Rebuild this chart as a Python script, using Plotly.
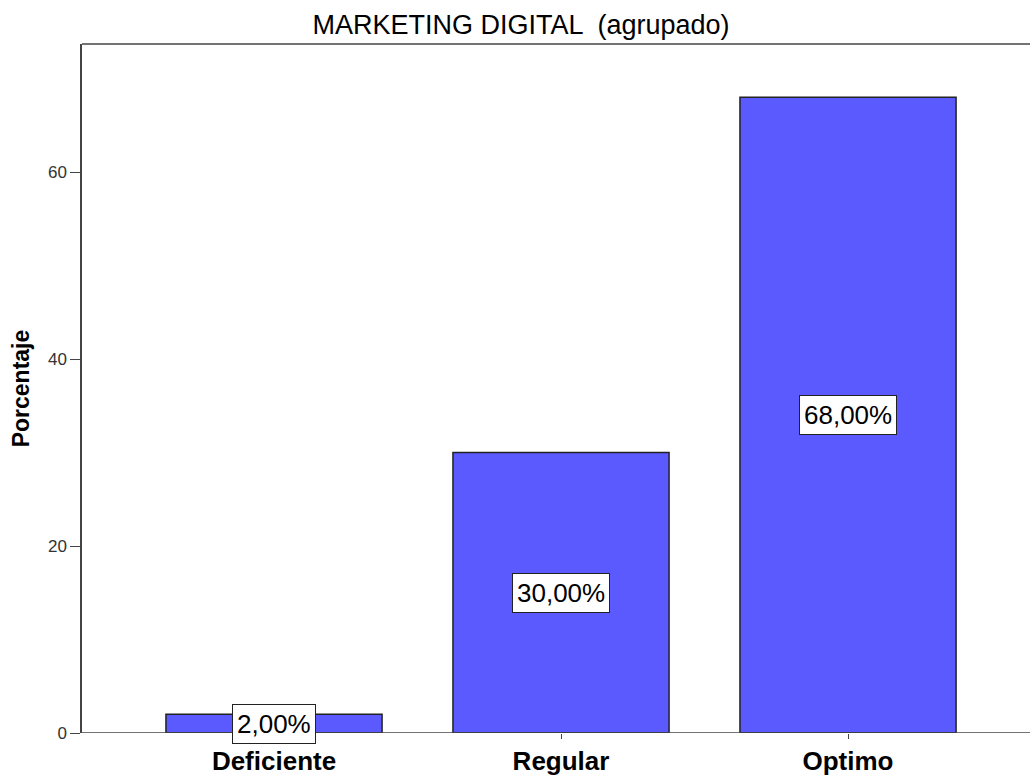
"""Bar chart — MARKETING DIGITAL (agrupado), SPSS style."""
import plotly.graph_objects as go

categories = ["Deficiente", "Regular", "Optimo"]
percentages = [2.0, 30.0, 68.0]
labels = ["2,00%", "30,00%", "68,00%"]
y_ticks = [0, 20, 40, 60]

_FONT = "Liberation Sans, Arial, sans-serif"
_BAR = "#5a5aff"
_AXIS = "#444444"

fig = go.Figure()
fig.add_trace(go.Bar(
    x=categories, y=percentages,
    width=0.753,
    marker=dict(color=_BAR, line=dict(color="#222222", width=1.5)),
    showlegend=False, hoverinfo="skip",
))

for cat, val, lab in zip(categories, percentages, labels):
    fig.add_annotation(
        x=cat, y=val / 2, text=lab, showarrow=False,
        font=dict(family=_FONT, size=26, color="#000000"),
        bgcolor="#ffffff", bordercolor="#222222", borderwidth=1, borderpad=4,
    )

# top frame line
fig.add_shape(type="line", xref="paper", yref="paper",
              x0=0, x1=1, y0=1, y1=1,
              line=dict(color=_AXIS, width=1.5))
# bottom axis line across whole plot area
fig.add_shape(type="line", xref="paper", yref="y",
              x0=0, x1=1, y0=0, y1=0,
              line=dict(color=_AXIS, width=1.5))

# the chart is cropped on the right in the original, so the plot runs past the window
fig.update_layout(
    width=1036, height=780,
    margin=dict(l=82, r=0, t=44, b=47),
    paper_bgcolor="#ffffff", plot_bgcolor="#ffffff",
    title=dict(text="MARKETING DIGITAL  (agrupado)", x=521 / 1036, xanchor="center",
               y=0.969, yanchor="middle",
               font=dict(family=_FONT, size=27, color="#000000")),
    xaxis=dict(
        range=[-0.669, 2.655], showgrid=False, zeroline=False,
        showline=False, ticks="outside", ticklen=5, tickcolor=_AXIS,
        tickfont=dict(family=_FONT, size=26, color="#000000", weight="bold"),
    ),
    yaxis=dict(
        range=[0, 73.7], tickvals=y_ticks, showgrid=False, zeroline=False,
        showline=True, linecolor=_AXIS, linewidth=1.5,
        ticks="outside", ticklen=10, tickcolor=_AXIS,
        tickfont=dict(family=_FONT, size=17, color="#333333"),
        title=dict(text="Porcentaje", standoff=12,
                   font=dict(family=_FONT, size=23, color="#000000", weight="bold")),
    ),
)

fig.write_html(
    "out.html", config={"displayModeBar": False},
    post_script="document.body.style.margin='0';"
                "document.documentElement.style.overflow='hidden';",
)
